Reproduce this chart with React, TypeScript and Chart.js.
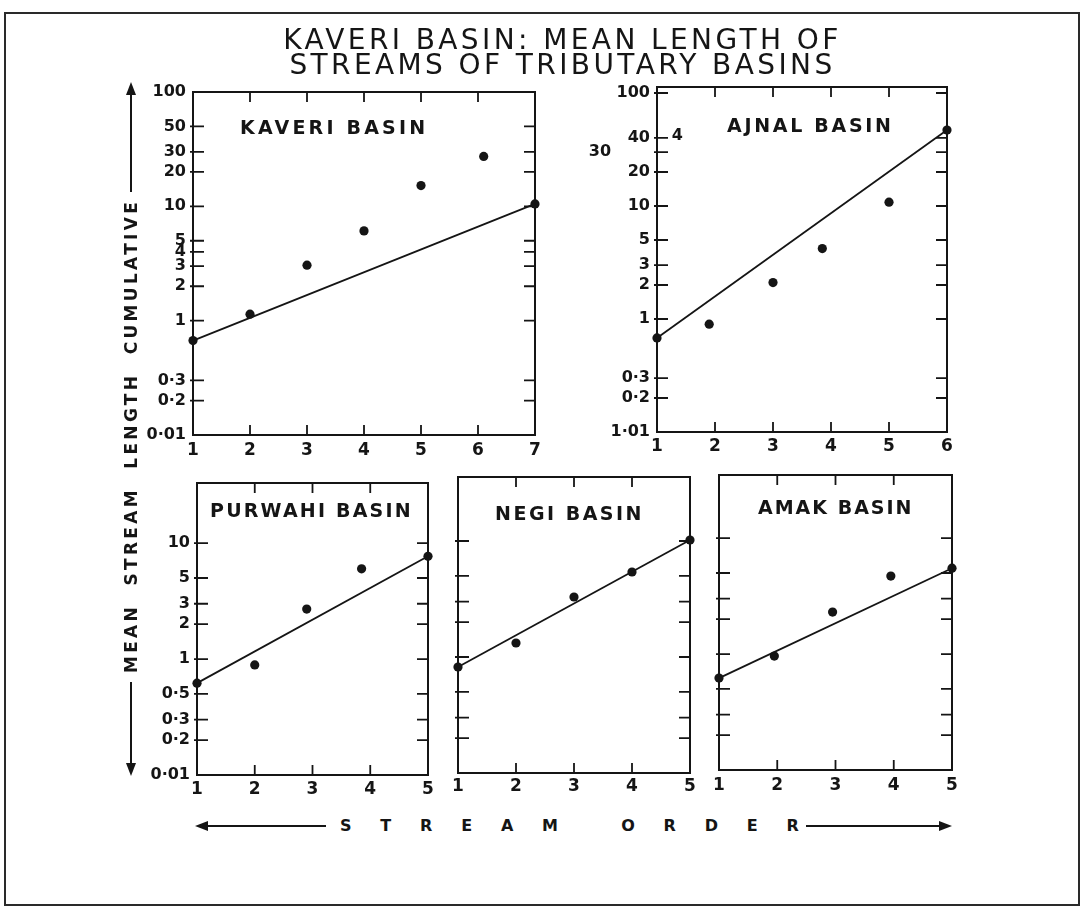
import React, { useEffect, useRef } from "react";
import { Chart, registerables } from "chart.js";

Chart.register(...registerables);

// ---------- Data ----------
const kaveriOrder = [1, 2, 3, 4, 5, 6.1, 7];
const kaveriLength = [0.67, 1.14, 3.06, 6.1, 15.2, 27.3, 10.5];
const kaveriFitOrder = [1, 7];
const kaveriFitLength = [0.67, 10.5];

const ajnalOrder = [1, 1.9, 3, 3.85, 5, 6];
const ajnalLength = [0.68, 0.9, 2.1, 4.2, 10.8, 47];
const ajnalFitOrder = [1, 6];
const ajnalFitLength = [0.68, 47];

const purwahiOrder = [1, 2, 2.9, 3.85, 5];
const purwahiLength = [0.62, 0.89, 2.7, 6.0, 7.7];
const purwahiFitOrder = [1, 5];
const purwahiFitLength = [0.62, 7.7];

const negiOrder = [1, 2, 3, 4, 5];
const negiLength = [0.82, 1.32, 3.29, 5.4, 10.2];
const negiFitOrder = [1, 5];
const negiFitLength = [0.82, 10.2];

const amakOrder = [1, 1.95, 2.95, 3.95, 5];
const amakLength = [0.62, 0.96, 2.3, 4.7, 5.5];
const amakFitOrder = [1, 5];
const amakFitLength = [0.62, 5.5];

// Tick values and their printed labels (as printed on the original figure)
const kaveriTicks = [100, 50, 30, 20, 10, 5, 4, 3, 2, 1, 0.3, 0.2, 0.1];
const kaveriTickLabels = ["100", "50", "30", "20", "10", "5", "4", "3", "2", "1", "0·3", "0·2", "0·01"];
const ajnalTicks = [100, 40, 30, 20, 10, 5, 3, 2, 1, 0.3, 0.2, 0.1];
const ajnalTickLabels = ["100", "40", "30       ", "20", "10", "5", "3", "2", "1", "0·3", "0·2", "1·01"];
const lowerTicks = [10, 5, 3, 2, 1, 0.5, 0.3, 0.2, 0.1];
const purwahiTickLabels = ["10", "5", "3", "2", "1", "0·5", "0·3", "0·2", "0·01"];
const blankTickLabels = ["", "", "", "", "", "", "", "", ""];

const TITLE_1 = "KAVERI BASIN: MEAN LENGTH OF";
const TITLE_2 = "STREAMS OF TRIBUTARY BASINS";
const Y_TITLE = "MEAN  STREAM  LENGTH  CUMULATIVE";
const X_TITLE = "STREAM ORDER";

// ---------- Layout ----------
type Box = { l: number; t: number; r: number; b: number };
type PanelCfg = {
  name: string;
  order: number[];
  length: number[];
  fitOrder: number[];
  fitLength: number[];
  xMax: number;
  yMax: number;
  ticks: number[];
  labels: string[];
  box: Box;
  xPad: number;
  nameX: number;
  nameY: number;
  nameSpacing: number;
  stray?: { x: number; y: number; text: string };
};

const PANELS: PanelCfg[] = [
  {
    name: "KAVERI BASIN", order: kaveriOrder, length: kaveriLength,
    fitOrder: kaveriFitOrder, fitLength: kaveriFitLength, xMax: 7, yMax: 100,
    ticks: kaveriTicks, labels: kaveriTickLabels,
    box: { l: 193, t: 92, r: 535, b: 435 }, xPad: 5, nameX: 240, nameY: 127, nameSpacing: 3.2,
  },
  {
    name: "AJNAL BASIN", order: ajnalOrder, length: ajnalLength,
    fitOrder: ajnalFitOrder, fitLength: ajnalFitLength, xMax: 6, yMax: 113,
    ticks: ajnalTicks, labels: ajnalTickLabels,
    box: { l: 657, t: 87, r: 947, b: 432 }, xPad: 4, nameX: 727, nameY: 125, nameSpacing: 2.7,
    stray: { x: 1.35, y: 42, text: "4" },
  },
  {
    name: "PURWAHI BASIN", order: purwahiOrder, length: purwahiLength,
    fitOrder: purwahiFitOrder, fitLength: purwahiFitLength, xMax: 5, yMax: 33,
    ticks: lowerTicks, labels: purwahiTickLabels,
    box: { l: 197, t: 483, r: 428, b: 775 }, xPad: 4, nameX: 210, nameY: 510, nameSpacing: 2.2,
  },
  {
    name: "NEGI BASIN", order: negiOrder, length: negiLength,
    fitOrder: negiFitOrder, fitLength: negiFitLength, xMax: 5, yMax: 35.6,
    ticks: lowerTicks, labels: blankTickLabels,
    box: { l: 458, t: 477, r: 690, b: 773 }, xPad: 3, nameX: 495, nameY: 513, nameSpacing: 2.5,
  },
  {
    name: "AMAK BASIN", order: amakOrder, length: amakLength,
    fitOrder: amakFitOrder, fitLength: amakFitLength, xMax: 5, yMax: 35,
    ticks: lowerTicks, labels: blankTickLabels,
    box: { l: 719, t: 475, r: 952, b: 770 }, xPad: 5, nameX: 758, nameY: 507, nameSpacing: 2,
  },
];

const Y_AXIS_W = 80;
const PAD_T = 20;
const PAD_R = 20;
const X_AXIS_H = 35;
const INK = "#151515";
const TICK_FONT = { family: "'DejaVu Sans', sans-serif", size: 16, weight: "bold" as const };

const framePlugin = {
  id: "frameTicks",
  beforeDatasetsDraw(chart: any, _args: any, opts: any) {
    const { ctx, chartArea } = chart;
    const { left, right, top, bottom } = chartArea;
    const xs = chart.scales.x;
    const ys = chart.scales.y;
    ctx.save();
    ctx.strokeStyle = INK;
    ctx.lineWidth = 2;
    ctx.strokeRect(left, top, right - left, bottom - top);
    ctx.lineWidth = 1.8;
    ctx.beginPath();
    ys.ticks.forEach((t: any) => {
      const py = ys.getPixelForValue(t.value);
      if (py < top + 3 || py > bottom - 3) return;
      ctx.moveTo(left - 3, py);
      ctx.lineTo(left + 11, py);
      ctx.moveTo(right - 11, py);
      ctx.lineTo(right, py);
    });
    xs.ticks.forEach((t: any) => {
      const px = xs.getPixelForValue(t.value);
      if (px < left + 3 || px > right - 3) return;
      ctx.moveTo(px, top);
      ctx.lineTo(px, top + 10);
      ctx.moveTo(px, bottom);
      ctx.lineTo(px, bottom - 10);
    });
    ctx.stroke();
    if (opts && opts.stray) {
      const s = opts.stray;
      ctx.fillStyle = INK;
      ctx.font = "bold 16px 'DejaVu Sans', sans-serif";
      ctx.textAlign = "center";
      ctx.textBaseline = "middle";
      ctx.fillText(s.text, xs.getPixelForValue(s.x), ys.getPixelForValue(s.y));
    }
    ctx.restore();
  },
};

function PanelChart({ cfg }: { cfg: PanelCfg }) {
  const ref = useRef<HTMLCanvasElement | null>(null);
  const { box } = cfg;
  const width = box.r - box.l + Y_AXIS_W + PAD_R;
  const height = box.b - box.t + PAD_T + X_AXIS_H;

  useEffect(() => {
    if (!ref.current) return;
    const chart = new Chart(ref.current, {
      type: "scatter",
      data: {
        datasets: [
          {
            data: cfg.fitOrder.map((x, i) => ({ x, y: cfg.fitLength[i] })),
            showLine: true,
            borderColor: INK,
            borderWidth: 1.8,
            pointRadius: 0,
            clip: false as any,
          },
          {
            data: cfg.order.map((x, i) => ({ x, y: cfg.length[i] })),
            pointRadius: 4.6,
            pointBackgroundColor: INK,
            pointBorderColor: INK,
            pointBorderWidth: 0,
            clip: false as any,
          },
        ],
      },
      options: {
        animation: false,
        responsive: false,
        devicePixelRatio: 1,
        layout: { padding: { top: PAD_T, right: PAD_R, left: 0, bottom: 0 } },
        plugins: {
          legend: { display: false },
          tooltip: { enabled: false },
          frameTicks: { stray: cfg.stray },
        } as any,
        scales: {
          x: {
            type: "linear",
            min: 1,
            max: cfg.xMax,
            grid: { display: false, drawTicks: false },
            border: { display: false },
            afterFit: (s: any) => { s.height = X_AXIS_H; },
            ticks: {
              stepSize: 1,
              padding: cfg.xPad,
              color: INK,
              font: { ...TICK_FONT, size: 17 },
              callback: (v: any) => String(v),
            },
          },
          y: {
            type: "logarithmic",
            min: 0.1,
            max: cfg.yMax,
            grid: { display: false, drawTicks: false },
            border: { display: false },
            afterFit: (s: any) => { s.width = Y_AXIS_W; },
            afterBuildTicks: (s: any) => {
              s.ticks = cfg.ticks.map((v) => ({ value: v }));
            },
            ticks: {
              autoSkip: false,
              padding: 7,
              color: INK,
              font: TICK_FONT,
              callback: (v: any) => {
                const i = cfg.ticks.findIndex((t) => Math.abs(t - Number(v)) < 1e-9);
                return i >= 0 ? cfg.labels[i] : "";
              },
            },
          },
        },
      } as any,
      plugins: [framePlugin],
    });
    return () => chart.destroy();
  }, [cfg]);

  return (
    <canvas
      ref={ref}
      width={width}
      height={height}
      style={{
        position: "absolute",
        left: box.l - Y_AXIS_W,
        top: box.t - PAD_T,
        width,
        height,
      }}
    />
  );
}

export default function App() {
  const font = "'DejaVu Sans', sans-serif";
  return (
    <div
      style={{
        position: "fixed",
        left: 0,
        top: 0,
        width: 1081,
        height: 907,
        background: "#fff",
        overflow: "hidden",
        fontFamily: font,
        color: INK,
      }}
    >
      {PANELS.map((p) => (
        <PanelChart key={p.name} cfg={p} />
      ))}

      {PANELS.map((p) => (
        <div
          key={p.name + "-label"}
          style={{
            position: "absolute",
            left: p.nameX,
            top: p.nameY - 11,
            fontSize: 19,
            lineHeight: "22px",
            fontWeight: "bold",
            letterSpacing: p.nameSpacing,
            whiteSpace: "pre",
          }}
        >
          {p.name}
        </div>
      ))}

      <div
        style={{
          position: "absolute",
          left: 0,
          width: 1125,
          top: 27,
          textAlign: "center",
          fontSize: 28,
          lineHeight: "25px",
          letterSpacing: 3.4,
          whiteSpace: "pre",
        }}
      >
        <div>{TITLE_1}</div>
        <div>{TITLE_2}</div>
      </div>

      <div
        style={{
          position: "absolute",
          left: 131 - 260,
          top: 436 - 11,
          width: 520,
          height: 22,
          lineHeight: "22px",
          textAlign: "center",
          fontSize: 17,
          fontWeight: "bold",
          letterSpacing: 3.3,
          whiteSpace: "pre",
          transform: "rotate(-90deg)",
          transformOrigin: "50% 50%",
        }}
      >
        {Y_TITLE}
      </div>

      <div
        style={{
          position: "absolute",
          left: 340,
          top: 815,
          fontSize: 16,
          lineHeight: "22px",
          fontWeight: "bold",
          letterSpacing: 28.8,
          whiteSpace: "pre",
        }}
      >
        {X_TITLE}
      </div>

      <svg
        width={1081}
        height={907}
        style={{ position: "absolute", left: 0, top: 0, pointerEvents: "none" }}
      >
        <rect x={5} y={13} width={1074} height={892} fill="none" stroke="#2a2a2a" strokeWidth={2} />
        {/* y-axis arrows */}
        <line x1={131} y1={92} x2={131} y2={192} stroke={INK} strokeWidth={2} />
        <polygon points="131,82 126,95 136,95" fill={INK} />
        <line x1={131} y1={682} x2={131} y2={765} stroke={INK} strokeWidth={2} />
        <polygon points="131,776 126,763 136,763" fill={INK} />
        {/* x-axis arrows */}
        <line x1={205} y1={826} x2={326} y2={826} stroke={INK} strokeWidth={2} />
        <polygon points="195,826 208,821 208,831" fill={INK} />
        <line x1={806} y1={826} x2={940} y2={826} stroke={INK} strokeWidth={2} />
        <polygon points="952,826 939,821 939,831" fill={INK} />
      </svg>
    </div>
  );
}
